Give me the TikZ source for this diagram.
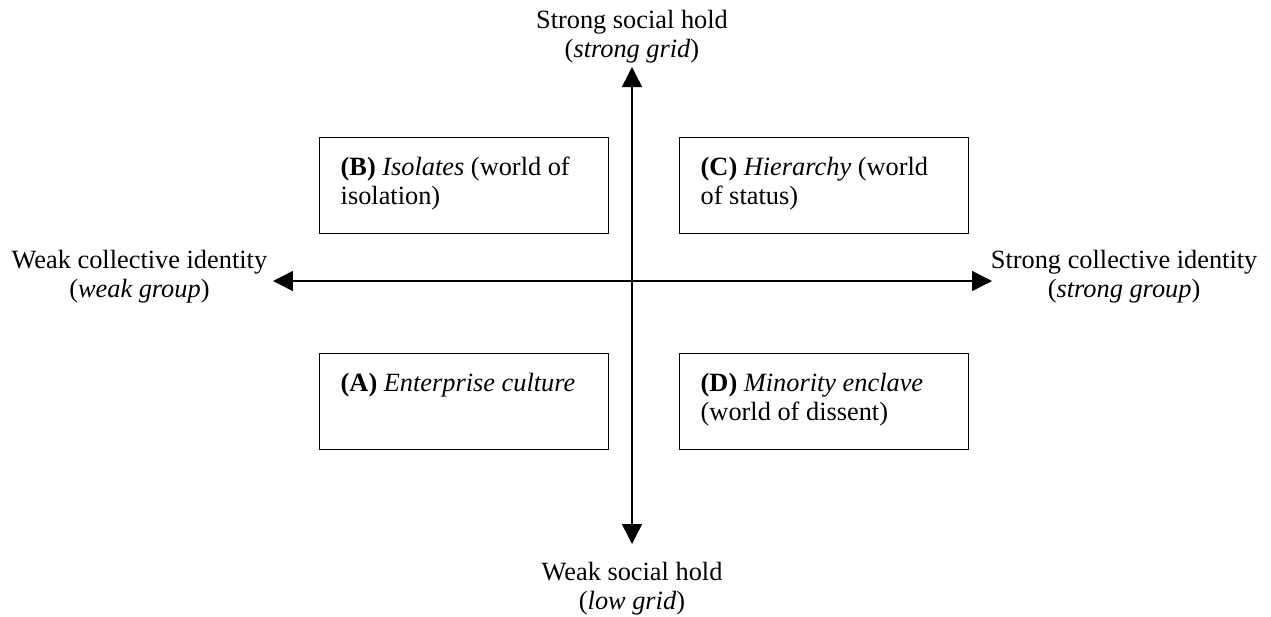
\documentclass[tikz,border=0pt]{standalone}
\usepackage{fontspec}
\setmainfont{Liberation Serif}
\usepackage{tikz}
\usetikzlibrary{positioning,arrows.meta}

\tikzset{
    axis/.style={line width=0.85pt, {Triangle[length=0.4cm, width=0.4cm]}-{Triangle[length=0.4cm, width=0.4cm]}},
    quad/.style={draw, line width=0.8pt, anchor=north west, align=flush left,
        text width=4.94cm, inner xsep=0.42cm, inner ysep=0.3cm,
        text height=0.46cm, text depth=0.86cm, font=\fontsize{15}{16.5}\selectfont},
    pole/.style={align=center, inner sep=2pt, font=\fontsize{15}{16.5}\selectfont}
}

\begin{document}
\begin{tikzpicture}[x=0.02cm, y=-0.02cm]
    \useasboundingbox (0,0) rectangle (1271,616);

    % Arrow tips of the two axes
    \coordinate (tipN) at (632, 67);
    \coordinate (tipS) at (632, 544);
    \coordinate (tipW) at (273, 281);
    \coordinate (tipE) at (992, 281);

    % Axes
    \draw[axis] (tipW) -- (tipE);
    \draw[axis] (tipN) -- (tipS);

    % Axis labels
    \node[pole, above=0pt of tipN] (gridStrong) {Strong social hold\\(\textit{strong grid})};
    \node[pole, below=0.28cm of tipS] (gridLow) {Weak social hold\\(\textit{low grid})};
    \node[pole, left=0.04cm of tipW, yshift=0.08cm] (groupWeak) {Weak collective identity\\(\textit{weak group})};
    \node[pole, right=-0.1cm of tipE, yshift=0.08cm] (groupStrong) {Strong collective identity\\(\textit{strong group})};

    % Quadrants
    \node[quad] (boxIsolates) at (319, 137) {\textbf{(B)} \textit{Isolates} (world of\\isolation)};
    \node[quad] (boxHierarchy) at (679, 137) {\textbf{(C)} \textit{Hierarchy} (world\\of status)};
    \node[quad] (boxEnterprise) at (319, 353) {\textbf{(A)} \textit{Enterprise culture}};
    \node[quad] (boxEnclave) at (679, 353) {\textbf{(D)} \textit{Minority enclave}\\(world of dissent)};
\end{tikzpicture}
\end{document}
